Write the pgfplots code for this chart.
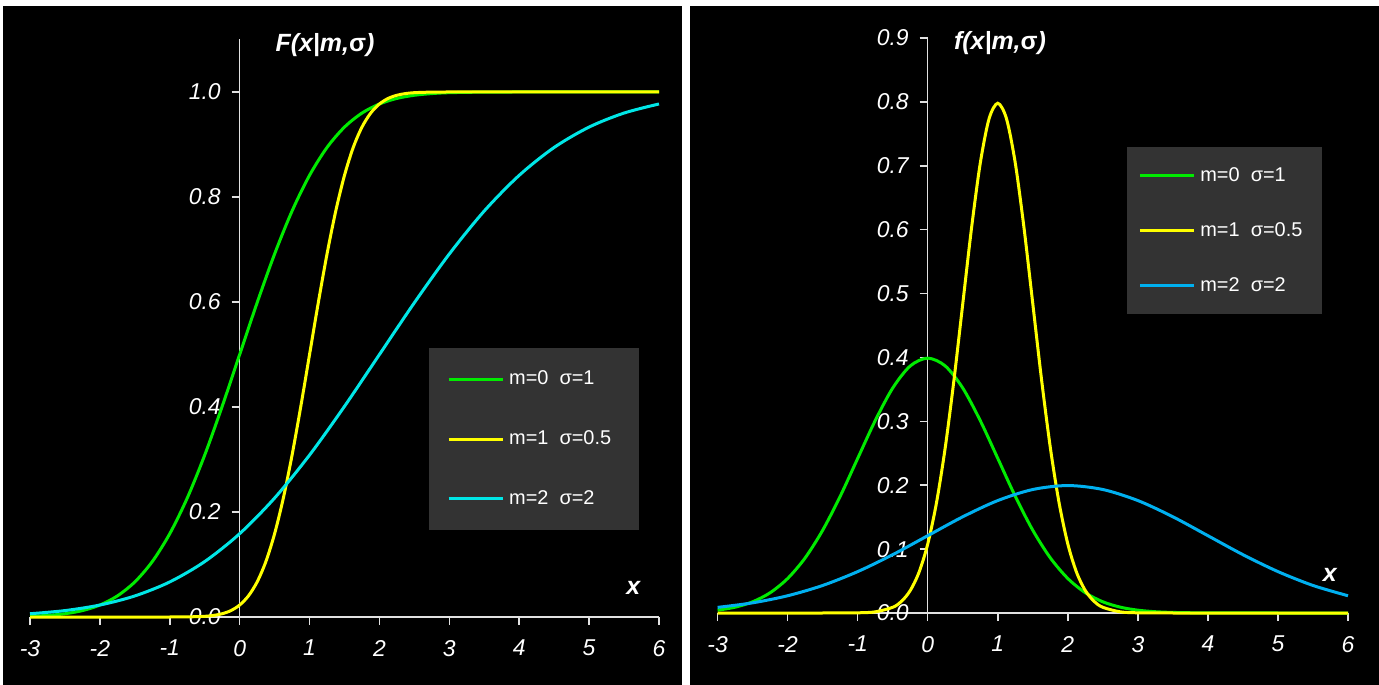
\documentclass[border=0pt]{standalone}
\usepackage{pgfplots}
\pgfplotsset{compat=1.18}
\usepackage{fontspec}
\setmainfont{Liberation Sans}

\definecolor{cgreen}{RGB}{0,235,0}
\definecolor{cyellow}{RGB}{255,255,0}
\definecolor{ccyan}{RGB}{0,230,230}
\definecolor{cblue}{RGB}{0,176,240}
\definecolor{legendgray}{RGB}{51,51,51}
\definecolor{axisgray}{RGB}{225,225,225}

\pgfplotsset{
  panel/.style={
    scale only axis, anchor=south west,
    axis lines=middle,
    axis line style={-, draw=axisgray, line width=0.75bp},
    xmin=-3, xmax=6, ymin=0,
    xtick={-3,-2,...,6},
    tick align=outside, major tick length=4bp,
    tick style={draw=axisgray, line width=0.75bp},
    hide obscured x ticks=false, hide obscured y ticks=false,
    /pgf/number format/assume math mode=true,
    tick label style={font=\fontsize{11.5}{13}\selectfont\itshape, text=white},
    xticklabel style={yshift=-4bp},
    yticklabel style={xshift=-2bp, /pgf/number format/fixed, /pgf/number format/fixed zerofill, /pgf/number format/precision=1},
    label style={font=\fontsize{12.5}{14}\selectfont\bfseries\itshape, text=white},
    clip=false,
    legend cell align=left,
    legend image code/.code={\draw[##1] (0bp,0bp) -- (27bp,0bp);},
    legend style={fill=legendgray, draw=none, text=white, anchor=north west,
      font=\fontsize{10}{12}\selectfont, nodes={inner sep=0pt},
      /tikz/every odd column/.append style={column sep=2.5bp}},
    every axis plot/.append style={line width=1.5bp, smooth, no markers},
  },
}

\begin{document}
\begin{tikzpicture}
\useasboundingbox (0,0) rectangle (689.5bp,342.5bp);
\fill[white] (0,0) rectangle (689.5bp,342.5bp);
\fill[black] (1.5bp,0) rectangle (341bp,339.5bp);
\fill[black] (345bp,0) rectangle (689.5bp,339.5bp);

% left: distribution functions
\begin{axis}[panel,
  at={(15bp,34bp)}, width=314.5bp, height=288.75bp,
  ymax=1.1, ytick={0,0.2,...,1.0},
  xlabel={x}, ylabel={F(x|m,{\upshape σ})},
  xlabel style={at={(axis description cs:0.959,0.05)}, anchor=center},
  ylabel style={at={(axis description cs:0.469,0.99)}, anchor=center},
  legend style={at={(0.634,0.466)}, inner xsep=9bp, inner ysep=11.2bp, row sep=21.5bp},
]
\addplot[cgreen] coordinates {
(-3,0.0013) (-2.75,0.0030) (-2.5,0.0062) (-2.25,0.0122) (-2,0.0228) (-1.75,0.0401)
(-1.5,0.0668) (-1.25,0.1056) (-1,0.1587) (-0.75,0.2266) (-0.5,0.3085) (-0.25,0.4013)
(0,0.5) (0.25,0.5987) (0.5,0.6915) (0.75,0.7734) (1,0.8413) (1.25,0.8944) (1.5,0.9332)
(1.75,0.9599) (2,0.9772) (2.25,0.9878) (2.5,0.9938) (2.75,0.9970) (3,0.9987)
(3.5,0.9998) (4,1.0) (5,1.0) (6,1.0)};
\addlegendentry{\makebox[56bp][l]{m=0\ \ σ=1}}
\addplot[cyellow] coordinates {
(-3,0) (-2.5,0) (-2,0) (-1.5,0) (-1,0) (-0.75,0.0002) (-0.5,0.0013) (-0.375,0.0030)
(-0.25,0.0062) (-0.125,0.0122) (0,0.0228) (0.125,0.0401) (0.25,0.0668) (0.375,0.1056)
(0.5,0.1587) (0.625,0.2266) (0.75,0.3085) (0.875,0.4013) (1,0.5) (1.125,0.5987)
(1.25,0.6915) (1.375,0.7734) (1.5,0.8413) (1.625,0.8944) (1.75,0.9332) (1.875,0.9599)
(2,0.9772) (2.125,0.9878) (2.25,0.9938) (2.375,0.9970) (2.5,0.9987) (2.75,0.9998)
(3,1) (3.5,1) (4,1) (5,1) (6,1)};
\addlegendentry{\makebox[56bp][l]{m=1\ \ σ=0.5}}
\addplot[ccyan] coordinates {
(-3,0.0062) (-2.5,0.0122) (-2,0.0228) (-1.5,0.0401) (-1,0.0668) (-0.5,0.1056)
(0,0.1587) (0.5,0.2266) (1,0.3085) (1.5,0.4013) (2,0.5) (2.5,0.5987) (3,0.6915)
(3.5,0.7734) (4,0.8413) (4.5,0.8944) (5,0.9332) (5.5,0.9599) (6,0.9772)};
\addlegendentry{\makebox[56bp][l]{m=2\ \ σ=2}}
\end{axis}

% right: densities
\begin{axis}[panel,
  at={(358.8bp,36bp)}, width=315.2bp, height=287.5bp,
  ymax=0.9, ytick={0,0.1,...,0.9},
  xlabel={x}, ylabel={f(x|m,{\upshape σ})},
  xlabel style={at={(axis description cs:0.971,0.066)}, anchor=center},
  ylabel style={at={(axis description cs:0.448,0.991)}, anchor=center},
  legend style={at={(0.6494,0.8104)}, inner xsep=5.5bp, inner ysep=10bp, row sep=19bp},
]
\addplot[cgreen] coordinates {
(-3,0.0044) (-2.75,0.0091) (-2.5,0.0175) (-2.25,0.0317) (-2,0.0540) (-1.75,0.0863)
(-1.5,0.1295) (-1.25,0.1826) (-1,0.2420) (-0.75,0.3011) (-0.5,0.3521) (-0.25,0.3867)
(0,0.3989) (0.25,0.3867) (0.5,0.3521) (0.75,0.3011) (1,0.2420) (1.25,0.1826)
(1.5,0.1295) (1.75,0.0863) (2,0.0540) (2.25,0.0317) (2.5,0.0175) (2.75,0.0091)
(3,0.0044) (3.25,0.0020) (3.5,0.0009) (4,0.0001) (5,0) (6,0)};
\addlegendentry{\makebox[55.5bp][l]{m=0\ \ σ=1}}
\addplot[cyellow] coordinates {
(-3,0) (-2.5,0) (-2,0) (-1.5,0) (-1,0.0003) (-0.75,0.0018) (-0.5,0.0089) (-0.375,0.0182)
(-0.25,0.0351) (-0.125,0.0635) (0,0.1080) (0.125,0.1726) (0.25,0.2590) (0.375,0.3652)
(0.5,0.4839) (0.625,0.6023) (0.75,0.7041) (0.875,0.7734) (1,0.7979) (1.125,0.7734)
(1.25,0.7041) (1.375,0.6023) (1.5,0.4839) (1.625,0.3652) (1.75,0.2590) (1.875,0.1726)
(2,0.1080) (2.125,0.0635) (2.25,0.0351) (2.375,0.0182) (2.5,0.0089) (2.75,0.0018)
(3,0.0003) (3.5,0) (4,0) (5,0) (6,0)};
\addlegendentry{\makebox[55.5bp][l]{m=1\ \ σ=0.5}}
\addplot[cblue] coordinates {
(-3,0.0088) (-2.5,0.0159) (-2,0.0270) (-1.5,0.0431) (-1,0.0648) (-0.5,0.0913)
(0,0.1210) (0.5,0.1506) (1,0.1760) (1.5,0.1933) (2,0.1995) (2.5,0.1933) (3,0.1760)
(3.5,0.1506) (4,0.1210) (4.5,0.0913) (5,0.0648) (5.5,0.0431) (6,0.0270)};
\addlegendentry{\makebox[55.5bp][l]{m=2\ \ σ=2}}
\end{axis}
\end{tikzpicture}
\end{document}
